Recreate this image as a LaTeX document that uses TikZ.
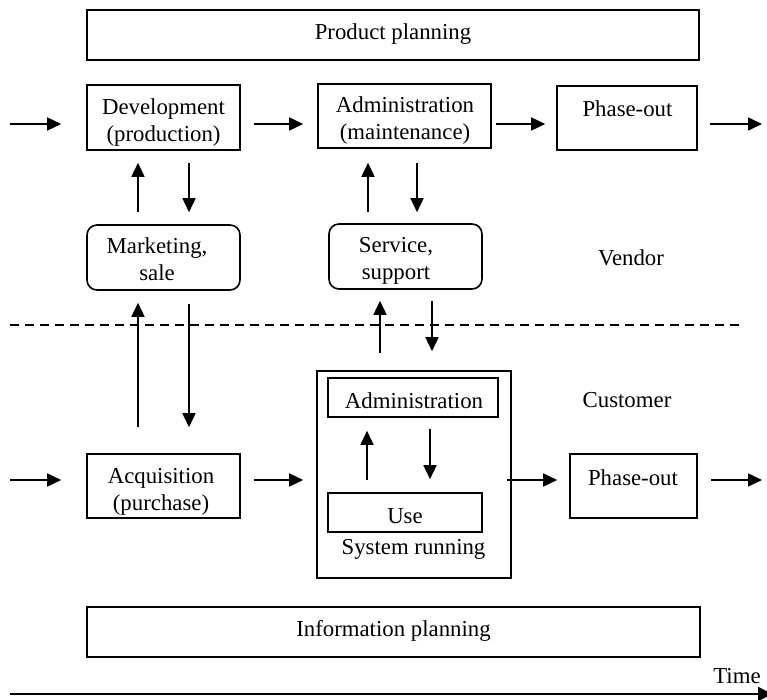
\documentclass[tikz,border=0pt]{standalone}
\usepackage{fontspec}
\setmainfont{Liberation Serif}
\usetikzlibrary{arrows.meta}
\tikzset{
	box/.style={draw, line width=1.6pt, inner sep=0pt},
	roundbox/.style={box, rounded corners=10pt},
	lbl/.style={inner sep=0pt, align=center},
	arrow/.style={line width=1.6pt, -{Triangle[length=14pt,width=13pt]}}
}
\begin{document}
\begin{tikzpicture}[x=1pt,y=-1pt,font=\fontsize{22.8}{27}\selectfont]
		\useasboundingbox (0,0) rectangle (767,700);
		%vendor side
		\node[box, minimum width=612, minimum height=50] (plan) at (393,35) {};
		\node[box, minimum width=153, minimum height=65] (dev) at (163.5,117.5) {};
		\node[box, minimum width=173, minimum height=64] (adm) at (404.5,116) {};
		\node[box, minimum width=140, minimum height=64] (ph1) at (627,118) {};
		\node[roundbox, minimum width=153, minimum height=65] (mkt) at (163.5,257.5) {};
		\node[roundbox, minimum width=153, minimum height=65] (svc) at (405.5,256.5) {};
		%customer side
		\node[box, minimum width=194, minimum height=207] (sys) at (414,474.5) {};
		\node[box, minimum width=170, minimum height=39] (sadm) at (413,397.5) {};
		\node[box, minimum width=154, minimum height=39] (use) at (405,512.5) {};
		\node[box, minimum width=153, minimum height=64] (acq) at (163.5,486) {};
		\node[box, minimum width=127, minimum height=64] (ph2) at (633.5,486) {};
		\node[box, minimum width=613, minimum height=50] (info) at (393.5,632) {};
		%texts
		\node[lbl] (plantxt) at (393,34) {Product planning};
		\node[lbl] (devtxt) at (163.5,123) {Development\\(production)};
		\node[lbl] (admtxt) at (405,121) {Administration\\(maintenance)};
		\node[lbl] (ph1txt) at (627.5,109) {Phase-out};
		\node[lbl] (mkttxt) at (157,259) {Marketing,\\sale};
		\node[lbl] (svctxt) at (396,261) {Service,\\support};
		\node[lbl] (vendor) at (631,258) {Vendor};
		\node[lbl] (customer) at (627,400) {Customer};
		\node[lbl] (sadmtxt) at (414,401) {Administration};
		\node[lbl] (usetxt) at (405,516) {Use};
		\node[lbl] (runtxt) at (413.5,549) {System running};
		\node[lbl] (acqtxt) at (161,492) {Acquisition\\(purchase)};
		\node[lbl] (ph2txt) at (633,478) {Phase-out};
		\node[lbl] (infotxt) at (393.5,631) {Information planning};
		\node[lbl] (time) at (737,676) {Time};
		%flow
		\coordinate (in1) at (10,124);
		\coordinate (out1) at (762,124);
		\coordinate (in2) at (10,480);
		\coordinate (out2) at (762,480);
		\draw[arrow, shorten >=25pt] (in1) -- (in1 -| dev.west);
		\draw[arrow, shorten <=13pt, shorten >=14pt] (dev.east |- in1) -- (adm.west |- in1);
		\draw[arrow, shorten <=4pt, shorten >=11pt] (adm.east |- in1) -- (ph1.west |- in1);
		\draw[arrow, shorten <=12pt] (ph1.east |- in1) -- (out1);
		\draw[arrow, shorten >=25pt] (in2) -- (in2 -| acq.west);
		\draw[arrow, shorten <=13pt, shorten >=13pt] (acq.east |- in2) -- (sys.west |- in2);
		\draw[arrow, shorten <=-5pt, shorten >=12pt] (sys.east |- in2) -- (ph2.west |- in2);
		\draw[arrow, shorten <=13pt] (ph2.east |- in2) -- (out2);
		%up and down
		\draw[arrow, shorten <=12pt, shorten >=12pt] ([xshift=-25.5pt]mkt.north) -- ([xshift=-25.5pt]dev.south);
		\draw[arrow, shorten <=12pt, shorten >=12pt] ([xshift=25.5pt]dev.south) -- ([xshift=25.5pt]mkt.north);
		\draw[arrow, shorten <=11pt, shorten >=14pt] ([xshift=-37.5pt]svc.north) -- ([xshift=-36.5pt]adm.south);
		\draw[arrow, shorten <=14pt, shorten >=11pt] ([xshift=12.5pt]adm.south) -- ([xshift=11.5pt]svc.north);
		\draw[arrow, shorten <=26pt, shorten >=12pt] ([xshift=-25.5pt]acq.north) -- ([xshift=-25.5pt]mkt.south);
		\draw[arrow, shorten <=13pt, shorten >=26pt] ([xshift=25.5pt]mkt.south) -- ([xshift=25.5pt]acq.north);
		\draw[arrow, shorten <=17pt, shorten >=11pt] ([xshift=-34pt]sys.north) -- ([xshift=-25.5pt]svc.south);
		\draw[arrow, shorten <=11pt, shorten >=19pt] ([xshift=26.5pt]svc.south) -- ([xshift=18pt]sys.north);
		\draw[arrow, shorten <=12pt, shorten >=13pt] ([xshift=-38pt]use.north) -- ([xshift=-46pt]sadm.south);
		\draw[arrow, shorten <=11pt, shorten >=13pt] ([xshift=17pt]sadm.south) -- ([xshift=25pt]use.north);
		%border and time
		\draw[line width=1.6pt, dash pattern=on 9pt off 6pt] (10,325) -- (743,325);
		\coordinate (t0) at (10,694);
		\coordinate (t1) at (772,694);
		\draw[line width=2.6pt, -{Triangle[length=14pt,width=14pt]}] (t0) -- (t1);
	\end{tikzpicture}
\end{document}
